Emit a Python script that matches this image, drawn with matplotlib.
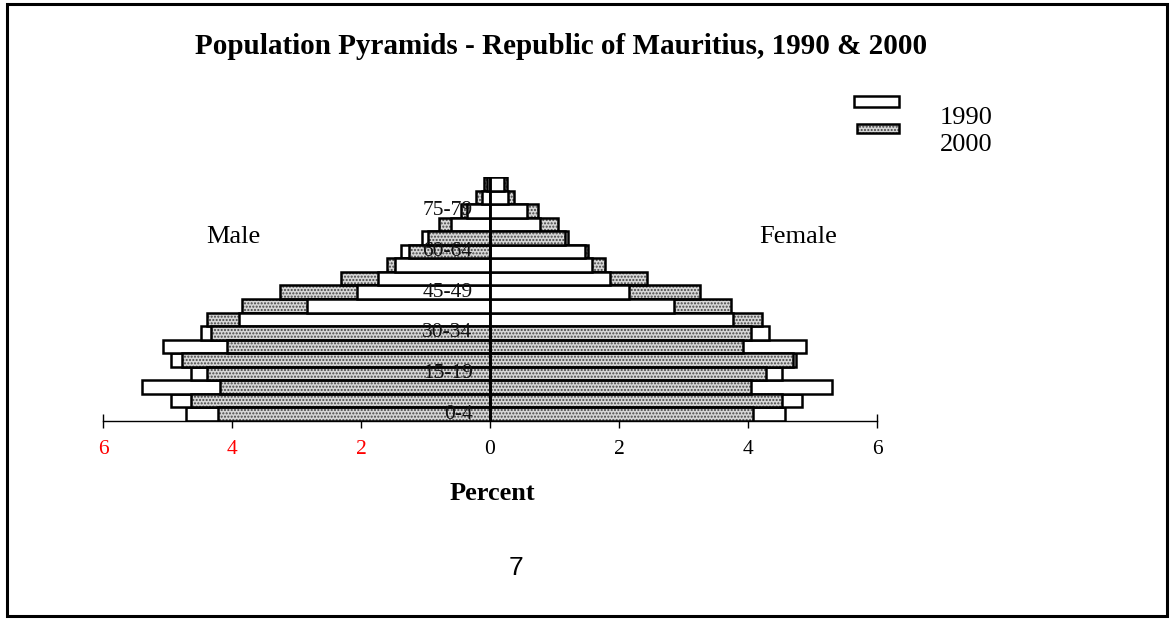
import matplotlib
matplotlib.use("Agg")
import matplotlib.pyplot as plt
from matplotlib.patches import Rectangle
import numpy as np

plt.rcParams['font.family'] = ['Liberation Serif', 'DejaVu Serif']

# age groups, bottom to top
age_groups = ["0-4", "5-9", "10-14", "15-19", "20-24", "25-29", "30-34", "35-39",
              "40-44", "45-49", "50-54", "55-59", "60-64", "65-69", "70-74",
              "75-79", "80-84", "85+"]
male_1990 = [4.71, 4.95, 5.39, 4.64, 4.94, 5.07, 4.48, 3.89, 2.83, 2.06,
             1.74, 1.47, 1.38, 1.05, 0.61, 0.36, 0.13, 0.05]
male_2000 = [4.22, 4.63, 4.19, 4.39, 4.77, 4.08, 4.32, 4.38, 3.85, 3.26,
             2.31, 1.59, 1.25, 0.96, 0.79, 0.45, 0.21, 0.09]
female_1990 = [4.57, 4.83, 5.30, 4.53, 4.74, 4.90, 4.33, 3.77, 2.86, 2.16,
               1.86, 1.58, 1.48, 1.21, 0.78, 0.58, 0.28, 0.21]
female_2000 = [4.08, 4.52, 4.05, 4.28, 4.70, 3.93, 4.05, 4.21, 3.74, 3.26,
               2.43, 1.78, 1.52, 1.16, 1.06, 0.75, 0.37, 0.27]
xticks = [-6, -4, -2, 0, 2, 4, 6]

W, H = 1171, 619
fig = plt.figure(figsize=(W / 100, H / 100), dpi=100)


def fx(px):
    return px / W


def fy(py):
    return 1 - py / H


ax = fig.add_axes([fx(103), fy(421), fx(877) - fx(103), fy(177) - fy(421)])

y = np.arange(len(age_groups))
DOT_FACE = '#d6d6d6'
DOT_HATCH = '#444444'


def draw_side(v90, v00, sign):
    v90 = sign * np.array(v90)
    v00 = sign * np.array(v00)
    b90 = ax.barh(y, v90, height=1.0, color='white', edgecolor='black', linewidth=1.8)
    b00 = ax.barh(y, v00, height=1.0, color=DOT_FACE, edgecolor=DOT_HATCH,
                  hatch='.....', linewidth=0)
    o00 = ax.barh(y, v00, height=1.0, color='none', edgecolor='black', linewidth=1.8)
    # the shorter bar of each row sits on top
    for i in range(len(y)):
        if abs(v90[i]) <= abs(v00[i]):
            b90[i].set_zorder(3)
            b00[i].set_zorder(2)
            o00[i].set_zorder(2.1)
        else:
            b90[i].set_zorder(2)
            b00[i].set_zorder(3)
            o00[i].set_zorder(3.1)


draw_side(male_1990, male_2000, -1)
draw_side(female_1990, female_2000, 1)

ax.axvline(0, color='black', linewidth=1.8, zorder=5)

for i in range(0, len(age_groups), 3):
    ax.text(-0.27, y[i], age_groups[i], ha='right', va='center',
            fontsize=15.5, color='#111111', zorder=6)

ax.set_xlim(-6, 6)
ax.set_ylim(-0.5, len(age_groups) - 0.5)
for s in ['left', 'right', 'top']:
    ax.spines[s].set_visible(False)
ax.spines['bottom'].set_linewidth(1.0)
ax.set_yticks([])
ax.set_xticks(xticks)
ax.set_xticklabels([str(abs(t)) for t in xticks], fontsize=15.5)
for t, lab in zip(xticks, ax.get_xticklabels()):
    lab.set_color('red' if t < 0 else 'black')
ax.tick_params(axis='x', direction='inout', length=10, width=1.0, pad=9)

# titles and labels
fig.text(fx(561), fy(47), "Population Pyramids - Republic of Mauritius, 1990 & 2000",
         ha='center', va='center', fontsize=21, fontweight='bold')
fig.text(fx(233), fy(237), "Male", ha='center', va='center', fontsize=19)
fig.text(fx(798), fy(237), "Female", ha='center', va='center', fontsize=19)
fig.text(fx(492), fy(493), "Percent", ha='center', va='center', fontsize=19,
         fontweight='bold')
fig.text(fx(516), fy(568), "7", ha='center', va='center', fontsize=19,
         family=['Liberation Sans', 'DejaVu Sans'])

# legend
fig.add_artist(Rectangle((fx(854), fy(106.5)), fx(899) - fx(854), fy(96) - fy(106.5),
                         transform=fig.transFigure, facecolor='white',
                         edgecolor='black', linewidth=1.8))
fig.add_artist(Rectangle((fx(857), fy(132.5)), fx(899) - fx(857), fy(124) - fy(132.5),
                         transform=fig.transFigure, facecolor=DOT_FACE,
                         edgecolor=DOT_HATCH, hatch='.....', linewidth=0))
fig.add_artist(Rectangle((fx(857), fy(132.5)), fx(899) - fx(857), fy(124) - fy(132.5),
                         transform=fig.transFigure, facecolor='none',
                         edgecolor='black', linewidth=1.8))
fig.text(fx(940), fy(118), "1990", ha='left', va='center', fontsize=19)
fig.text(fx(940), fy(145), "2000", ha='left', va='center', fontsize=19)

# outer frame
fig.add_artist(Rectangle((fx(6.5), fy(616)), fx(1167) - fx(6.5), fy(3.5) - fy(616),
                         transform=fig.transFigure, facecolor='none',
                         edgecolor='black', linewidth=2.2))

fig.savefig("out.png", dpi=100)
